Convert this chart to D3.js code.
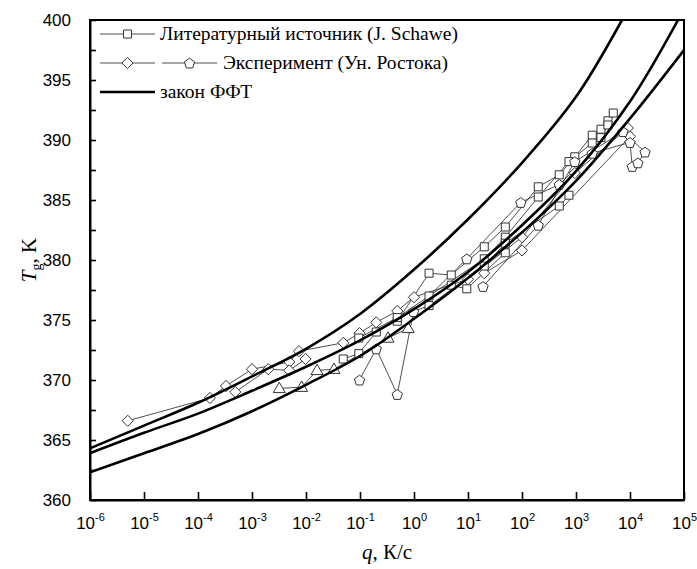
<!DOCTYPE html>
<html>
<head>
<meta charset="utf-8">
<script src="https://cdnjs.cloudflare.com/ajax/libs/d3/7.8.5/d3.min.js"></script>
<style>
body { margin: 0; background: #fff; }
svg { display: block; }
</style>
</head>
<body>
<div id="chart"></div>
<script>
// tick labels
const decades = [1e-6, 1e-5, 1e-4, 1e-3, 1e-2, 1e-1, 1e0, 1e1, 1e2, 1e3, 1e4, 1e5];
const decadeExp = ["-6", "-5", "-4", "-3", "-2", "-1", "0", "1", "2", "3", "4", "5"];
const tempTicks = [360, 362.5, 365, 367.5, 370, 372.5, 375, 377.5, 380, 382.5, 385, 387.5, 390, 392.5, 395, 397.5, 400];

// закон ФФТ (three fitted curves)
const fit1Q = [1e-6, 1e-5, 1e-4, 1e-3, 1e-2, 1e-1, 1, 10, 100, 1000, 7100];
const fit1T = [364.3, 366.2, 368.1, 370.3, 372.6, 375.5, 379.2, 383.4, 388.1, 393.6, 400];
const fit2Q = [1e-6, 1e-5, 1e-4, 1e-3, 1e-2, 1e-1, 1, 10, 100, 1000, 1e4, 77600];
const fit2T = [363.9, 365.6, 367.2, 369.1, 371.1, 373.3, 375.9, 379.0, 382.9, 387.4, 393.2, 400];
const fit3Q = [1e-6, 1e-5, 1e-4, 1e-3, 1e-2, 1e-1, 1, 10, 100, 1000, 1e4, 1e5];
const fit3T = [362.3, 363.9, 365.5, 367.4, 369.6, 372.0, 375.1, 378.5, 382.3, 386.6, 391.8, 397.5];

// Литературный источник (J. Schawe) - squares
const sq1Q = [0.49, 1.9, 4.9, 20, 49, 200, 490, 950, 2000, 2900, 3900, 4900];
const sq1T = [374.9, 378.9, 378.75, 381.1, 382.75, 386.1, 387.1, 388.6, 390.4, 390.9, 391.6, 392.25];
const sq2Q = [0.049, 0.095, 0.2, 1.9, 20, 49, 200, 740, 2000, 2900, 3900];
const sq2T = [371.75, 372.2, 374.0, 377.0, 380.1, 381.9, 385.25, 388.2, 389.75, 390.2, 391.25];
const sq3Q = [0.095, 0.49, 1.9, 20, 49, 490, 740];
const sq3T = [373.5, 375.2, 376.2, 379.5, 381.4, 384.5, 385.4];
const sq4Q = [4.9, 9.5, 49];
const sq4T = [377.9, 377.6, 380.6];

// Эксперимент (Ун. Ростока) - diamonds, pentagons, triangles
const dm1Q = [5e-6, 1.66e-4, 3.3e-4, 1e-3, 4.9e-3, 7.4e-3, 0.049, 0.098, 0.2, 0.49, 1, 10, 100, 950, 9100];
const dm1T = [366.6, 368.5, 369.5, 370.9, 371.5, 372.4, 373.1, 373.9, 374.8, 375.75, 376.9, 378.4, 381.9, 387.25, 391.0];
const dm2Q = [4.9e-4, 2e-3, 4.9e-3, 9.8e-3];
const dm2T = [369.0, 370.9, 370.8, 371.75];
const dm3Q = [20, 100, 1e4];
const dm3T = [378.9, 380.8, 390.3];
const pt1Q = [0.098, 0.2, 0.49, 0.98, 9.5, 95, 490, 2000, 1e4, 1.1e4];
const pt1T = [370.0, 372.6, 368.8, 375.7, 380.1, 384.8, 386.3, 388.9, 389.8, 387.8];
const pt2Q = [19, 200, 950, 7400, 1.9e4, 1.4e4];
const pt2T = [377.8, 382.9, 388.2, 390.7, 389.0, 388.1];
const tr1Q = [3.2e-3, 8.3e-3, 0.016, 0.033, 0.33, 0.78];
const tr1T = [369.3, 369.4, 370.8, 370.9, 373.5, 374.3];

const width = 697, height = 569;
const mLeft = 90, mRight = 684, mTop = 20, mBottom = 500;
const sansFont = "'Liberation Sans', Arial, sans-serif";
const serifFont = "'Liberation Serif', 'Times New Roman', serif";

const svg = d3.select("#chart").append("svg")
    .attr("width", width)
    .attr("height", height);

const x = d3.scaleLog().domain([1e-6, 1e5]).range([mLeft, mRight]);
const y = d3.scaleLinear().domain([360, 400]).range([mBottom, mTop]);

svg.append("clipPath").attr("id", "plot-clip")
    .append("rect")
    .attr("x", mLeft).attr("y", mTop)
    .attr("width", mRight - mLeft).attr("height", mBottom - mTop);

function markerPath(type) {
    if (type === "square") return "M-4,-4H4V4H-4Z";
    if (type === "diamond") return "M0,-5.6L5.6,0L0,5.6L-5.6,0Z";
    if (type === "triangle") return "M0,-6.2L6,4.2L-6,4.2Z";
    // pentagon
    const r = 5.4;
    const pts = d3.range(5).map(i => {
        const a = -Math.PI / 2 + i * 2 * Math.PI / 5;
        return [r * Math.cos(a), r * Math.sin(a) + 0.6];
    });
    return "M" + pts.map(p => p.join(",")).join("L") + "Z";
}

const zip = (qs, ts) => qs.map((q, i) => [q, ts[i]]);

const series = [
    { type: "triangle", pts: zip(tr1Q, tr1T) },
    { type: "diamond", pts: zip(dm1Q, dm1T) },
    { type: "diamond", pts: zip(dm2Q, dm2T) },
    { type: "diamond", pts: zip(dm3Q, dm3T) },
    { type: "square", pts: zip(sq1Q, sq1T) },
    { type: "square", pts: zip(sq2Q, sq2T) },
    { type: "square", pts: zip(sq3Q, sq3T) },
    { type: "square", pts: zip(sq4Q, sq4T) },
    { type: "pentagon", pts: zip(pt1Q, pt1T) },
    { type: "pentagon", pts: zip(pt2Q, pt2T) }
];

const line = d3.line().x(d => x(d[0])).y(d => y(d[1]));

const data = svg.append("g").attr("clip-path", "url(#plot-clip)");

series.forEach(s => {
    data.append("path")
        .attr("d", line(s.pts))
        .attr("fill", "none")
        .attr("stroke", "#222")
        .attr("stroke-width", 0.8);
});

series.forEach(s => {
    data.selectAll(null)
        .data(s.pts)
        .enter().append("path")
        .attr("d", markerPath(s.type))
        .attr("transform", d => `translate(${x(d[0])},${y(d[1])})`)
        .attr("fill", "#fff")
        .attr("stroke", "#333")
        .attr("stroke-width", 1);
});

// fitted curves on top
const fitLine = d3.line()
    .x(d => x(d[0])).y(d => y(d[1]))
    .curve(d3.curveCatmullRom.alpha(0.5));

[zip(fit1Q, fit1T), zip(fit2Q, fit2T), zip(fit3Q, fit3T)].forEach(c => {
    data.append("path")
        .attr("d", fitLine(c))
        .attr("fill", "none")
        .attr("stroke", "#000")
        .attr("stroke-width", 2.6);
});

// axes
const xAxis = d3.axisBottom(x)
    .tickValues(decades)
    .tickSizeInner(-8)
    .tickSizeOuter(0)
    .tickFormat(() => "");

const gx = svg.append("g")
    .attr("transform", `translate(0,${mBottom})`)
    .call(xAxis);

gx.selectAll(".tick text").remove();
gx.selectAll(".tick").append("text")
    .attr("y", 29)
    .attr("text-anchor", "middle")
    .attr("fill", "#000")
    .style("font-family", sansFont)
    .style("font-size", "17px")
    .each(function(d, i) {
        const t = d3.select(this);
        t.append("tspan").text("10");
        t.append("tspan").attr("dy", -8).style("font-size", "11px").text(decadeExp[i]);
    });

const yAxis = d3.axisLeft(y)
    .tickValues(tempTicks)
    .tickSizeInner(-6)
    .tickSizeOuter(0)
    .tickPadding(19)
    .tickFormat(d => d % 5 === 0 ? d : "");

const gy = svg.append("g")
    .attr("transform", `translate(${mLeft},0)`)
    .call(yAxis);

gy.selectAll(".tick text")
    .attr("fill", "#000")
    .style("font-family", sansFont)
    .style("font-size", "17px");

[gx, gy].forEach(g => {
    g.select(".domain").attr("stroke-width", 2);
    g.selectAll(".tick line").attr("stroke-width", 1.6);
});

// frame
svg.append("rect")
    .attr("x", mLeft).attr("y", mTop)
    .attr("width", mRight - mLeft).attr("height", mBottom - mTop)
    .attr("fill", "none")
    .attr("stroke", "#000")
    .attr("stroke-width", 2);

// legend
const legend = svg.append("g");
const rows = [34, 63, 92];

function legendSample(x0, x1, yy, type) {
    legend.append("line")
        .attr("x1", x0).attr("x2", x1).attr("y1", yy).attr("y2", yy)
        .attr("stroke", type ? "#222" : "#000")
        .attr("stroke-width", type ? 0.8 : 2.6);
    if (type) {
        legend.append("path")
            .attr("d", markerPath(type))
            .attr("transform", `translate(${(x0 + x1) / 2},${yy})`)
            .attr("fill", "#fff")
            .attr("stroke", "#333");
    }
}

function legendText(x0, yy, label) {
    legend.append("text")
        .attr("x", x0).attr("y", yy + 6)
        .attr("fill", "#000")
        .style("font-family", serifFont)
        .style("font-size", "19.5px")
        .text(label);
}

legendSample(100, 155, rows[0], "square");
legendText(160, rows[0], "Литературный источник (J. Schawe)");
legendSample(100, 155, rows[1], "diamond");
legendSample(162, 217, rows[1], "pentagon");
legendText(223, rows[1], "Эксперимент (Ун. Ростока)");
legendSample(100, 155, rows[2], null);
legendText(160, rows[2], "закон ФФТ");

// axis titles
const xt = svg.append("text")
    .attr("x", (mLeft + mRight) / 2).attr("y", 559)
    .attr("text-anchor", "middle")
    .attr("fill", "#000")
    .style("font-family", serifFont)
    .style("font-size", "21px");
xt.append("tspan").style("font-style", "italic").text("q");
xt.append("tspan").text(", К/с");

const yt = svg.append("text")
    .attr("transform", `translate(36,${(mTop + mBottom) / 2}) rotate(-90)`)
    .attr("text-anchor", "middle")
    .attr("fill", "#000")
    .style("font-family", serifFont)
    .style("font-size", "21px");
yt.append("tspan").style("font-style", "italic").text("T");
yt.append("tspan").style("font-size", "14px").attr("dy", 5).text("g");
yt.append("tspan").attr("dy", -5).text(", K");
</script>
</body>
</html>
